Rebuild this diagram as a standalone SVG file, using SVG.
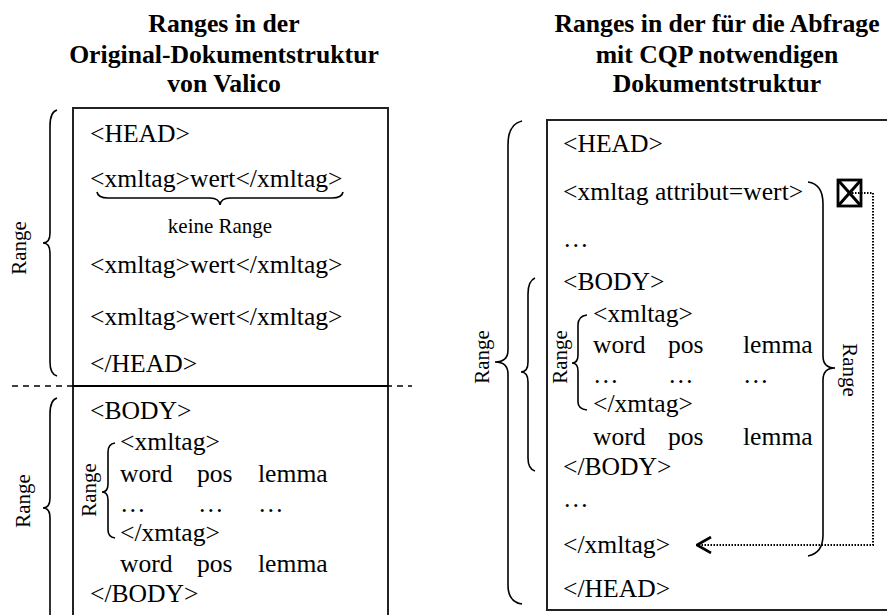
<svg xmlns="http://www.w3.org/2000/svg" width="887" height="615" viewBox="0 0 887 615">
  <style>
    text { font-family: "Liberation Serif", "Times New Roman", serif; fill: #000; }
    .title { font-size: 25.7px; font-weight: bold; text-anchor: middle; }
    .code { font-size: 25.6px; }
    .small { font-size: 21px; }
    .lbl { font-size: 21px; text-anchor: middle; }
    .box { fill: none; stroke: #222; stroke-width: 2; }
    .brace { fill: none; stroke: #000; stroke-width: 1.6; }
    .dots { fill: none; stroke: #000; stroke-width: 2; stroke-dasharray: 1.5 1.5; }
  </style>
  <defs>
    <marker id="openHead" viewBox="0 0 16 18" refX="15" refY="9" markerWidth="16" markerHeight="18" markerUnits="userSpaceOnUse" orient="auto">
      <path d="M1,1 L15,9 L1,17" fill="none" stroke="#000" stroke-width="2.6"/>
    </marker>
  </defs>

  <!-- Left column: original structure -->
  <g id="title-left">
    <text class="title" x="224" y="32">Ranges in der</text>
    <text class="title" x="224" y="63">Original-Dokumentstruktur</text>
    <text class="title" x="224" y="92">von Valico</text>
  </g>

  <g id="doc-left">
    <rect class="box" x="73" y="108" width="315" height="520"/>
    <line x1="73" y1="386" x2="388" y2="386" stroke="#000" stroke-width="2"/>
    <line x1="12" y1="386" x2="412" y2="386" stroke="#000" stroke-width="1.5" stroke-dasharray="6 5"/>
    <text class="code" x="90" y="142">&lt;HEAD&gt;</text>
    <text class="code" x="90" y="187">&lt;xmltag&gt;wert&lt;/xmltag&gt;</text>
    <text class="small" x="220" y="233" text-anchor="middle">keine Range</text>
    <text class="code" x="90" y="273">&lt;xmltag&gt;wert&lt;/xmltag&gt;</text>
    <text class="code" x="90" y="325">&lt;xmltag&gt;wert&lt;/xmltag&gt;</text>
    <text class="code" x="90" y="372">&lt;/HEAD&gt;</text>
    <text class="code" x="90" y="419">&lt;BODY&gt;</text>
    <text class="code" x="120" y="450">&lt;xmltag&gt;</text>
    <text class="code" x="120" y="482">word</text>
    <text class="code" x="197" y="482">pos</text>
    <text class="code" x="258" y="482">lemma</text>
    <text class="code" x="120" y="512">…</text>
    <text class="code" x="198" y="512">…</text>
    <text class="code" x="258" y="512">…</text>
    <text class="code" x="120" y="541">&lt;/xmtag&gt;</text>
    <text class="code" x="120" y="572">word</text>
    <text class="code" x="197" y="572">pos</text>
    <text class="code" x="258" y="572">lemma</text>
    <text class="code" x="90" y="602">&lt;/BODY&gt;</text>
  </g>

  <g id="ranges-left">
    <!-- head range -->
    <path class="brace" d="M57,110 Q50,112 50,126 L50,233 Q50,243 43,243 Q50,243 50,253 L50,362 Q50,374 57,376"/>
    <text class="lbl" transform="translate(26,248) rotate(-90)">Range</text>
    <!-- body range -->
    <path class="brace" d="M57,398 Q50,400 50,414 L50,498 Q50,508 43,508 Q50,508 50,518 L50,640"/>
    <text class="lbl" transform="translate(30,501) rotate(-90)">Range</text>
    <!-- inner xmltag range -->
    <path class="brace" d="M115,443 Q108,444 108,452 L108,484 Q108,492 102,492 Q108,492 108,500 L108,530 Q108,537 115,538"/>
    <text class="lbl" transform="translate(96,490) rotate(-90)">Range</text>
    <!-- no range below first element -->
    <path class="brace" d="M97,192 Q98,198 108,198 L210,198 Q219,198 220,205 Q221,198 230,198 L332,198 Q342,198 343,192"/>
  </g>

  <!-- Right column: structure required for CQP -->
  <g id="title-right">
    <text class="title" x="717" y="32">Ranges in der für die Abfrage</text>
    <text class="title" x="717" y="63">mit CQP notwendigen</text>
    <text class="title" x="717" y="92">Dokumentstruktur</text>
  </g>

  <g id="doc-right">
    <rect class="box" x="547" y="120" width="360" height="490"/>
    <text class="code" x="563" y="152">&lt;HEAD&gt;</text>
    <text class="code" x="563" y="200">&lt;xmltag attribut=wert&gt;</text>
    <text class="code" x="563" y="247">…</text>
    <text class="code" x="563" y="290">&lt;BODY&gt;</text>
    <text class="code" x="593" y="322">&lt;xmltag&gt;</text>
    <text class="code" x="593" y="353">word</text>
    <text class="code" x="668" y="353">pos</text>
    <text class="code" x="743" y="353">lemma</text>
    <text class="code" x="593" y="383">…</text>
    <text class="code" x="668" y="383">…</text>
    <text class="code" x="743" y="383">…</text>
    <text class="code" x="593" y="412">&lt;/xmtag&gt;</text>
    <text class="code" x="593" y="445">word</text>
    <text class="code" x="668" y="445">pos</text>
    <text class="code" x="743" y="445">lemma</text>
    <text class="code" x="563" y="475">&lt;/BODY&gt;</text>
    <text class="code" x="563" y="507">…</text>
    <text class="code" x="563" y="553">&lt;/xmltag&gt;</text>
    <text class="code" x="563" y="597">&lt;/HEAD&gt;</text>
  </g>

  <g id="ranges-right">
    <!-- whole head range -->
    <path class="brace" d="M522,121 Q508,124 508,145 L508,350 Q508,362 495,362 Q508,362 508,374 L508,585 Q508,602 522,604"/>
    <text class="lbl" transform="translate(489,357) rotate(-90)">Range</text>
    <!-- body range -->
    <path class="brace" d="M535,278 Q528,281 528,294 L528,362 Q528,372 521,372 Q528,372 528,382 L528,458 Q528,469 535,471"/>
    <!-- inner xmltag range -->
    <path class="brace" d="M587,315 Q578,316 578,325 L578,355 Q578,363 572,363 Q578,363 578,371 L578,402 Q578,409 587,410"/>
    <text class="lbl" transform="translate(567,357) rotate(-90)">Range</text>
    <!-- attribute range -->
    <path class="brace" d="M808,182 Q823,184 823,204 L823,356 Q823,368 835,368 Q823,368 823,380 L823,535 Q823,553 808,556"/>
    <text class="lbl" transform="translate(843,370) rotate(90)">Range</text>
  </g>

  <g id="marker-box">
    <rect x="838" y="180" width="23" height="26" fill="none" stroke="#000" stroke-width="2.8"/>
    <line x1="838" y1="180" x2="861" y2="206" stroke="#000" stroke-width="3"/>
    <line x1="861" y1="180" x2="838" y2="206" stroke="#000" stroke-width="3"/>
  </g>

  <g id="connectors">
    <path class="dots" d="M852,193 L873,193 L873,545 L697,545" marker-end="url(#openHead)"/>
  </g>
</svg>
